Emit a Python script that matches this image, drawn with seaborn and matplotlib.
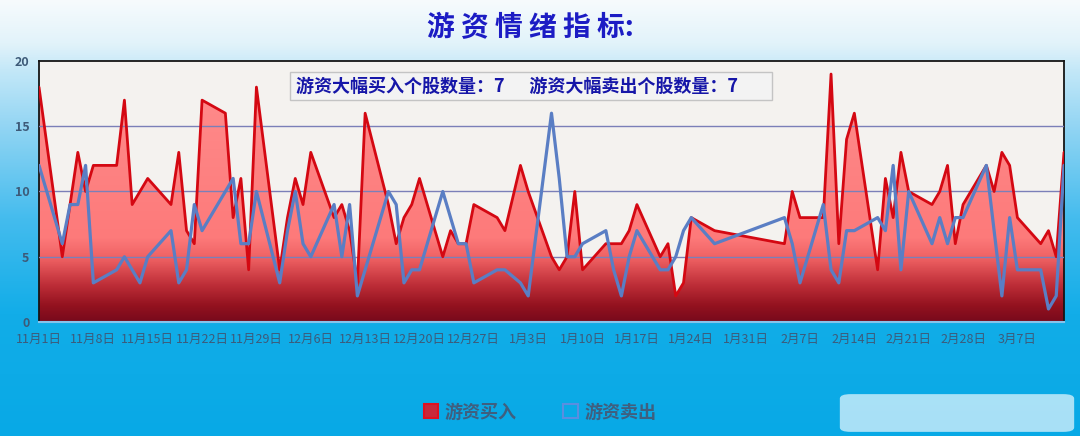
import numpy as np
import pandas as pd
import matplotlib
matplotlib.use("Agg")
import matplotlib.pyplot as plt
import matplotlib.dates as mdates
from matplotlib.colors import LinearSegmentedColormap
from matplotlib.patches import Patch, Rectangle, FancyBboxPatch
import seaborn as sns

# ---------------- data ----------------
days_nov = [1, 4, 5, 6, 7, 8, 11, 12, 13, 14, 15, 18, 19, 20, 21, 22, 25, 26, 27, 28, 29]
days_dec = [2, 3, 4, 5, 6, 9, 10, 11, 12, 13, 16, 17, 18, 19, 20, 23, 24, 25, 26, 27, 30, 31]
days_jan = [2, 3, 6, 7, 8, 9, 10, 13, 14, 15, 16, 17, 20, 21, 22, 23, 24, 27]
days_feb = [5, 6, 7, 10, 11, 12, 13, 14, 17, 18, 19, 20, 21, 24, 25, 26, 27, 28]
days_mar = [3, 4, 5, 6, 7, 10, 11, 12, 13]

buy = [18, 5, 9, 13, 10, 12, 12, 17, 9, 10, 11, 9, 13, 7, 6, 17, 16, 8, 11, 4, 18,
       4, 8, 11, 9, 13, 8, 9, 7, 3, 16, 9, 6, 8, 9, 11, 5, 7, 6, 6, 9, 8, 7,
       12, 10, 5, 4, 5, 10, 4, 6, 6, 6, 7, 9, 5, 6, 2, 3, 8, 7,
       6, 10, 8, 8, 19, 6, 14, 16, 4, 11, 8, 13, 10, 9, 10, 12, 6, 9,
       12, 10, 13, 12, 8, 6, 7, 5, 13]
sell = [12, 6, 9, 9, 12, 3, 4, 5, 4, 3, 5, 7, 3, 4, 9, 7, 10, 11, 6, 6, 10,
        3, 7, 10, 6, 5, 9, 5, 9, 2, 4, 10, 9, 3, 4, 4, 10, 8, 6, 6, 3, 4, 4,
        3, 2, 16, 11, 5, 5, 6, 7, 4, 2, 5, 7, 4, 4, 5, 7, 8, 6,
        8, 6, 3, 9, 4, 3, 7, 7, 8, 7, 12, 4, 10, 6, 8, 6, 8, 8,
        12, 7, 2, 8, 4, 4, 1, 2, 12]

y_ticks = [0, 5, 10, 15, 20]
title_text = "游 资 情 绪 指 标:"
info_text = "游资大幅买入个股数量：7      游资大幅卖出个股数量：7"
series_names = ["游资买入", "游资卖出"]

dates = ([pd.Timestamp(2024, 11, d) for d in days_nov] +
         [pd.Timestamp(2024, 12, d) for d in days_dec] +
         [pd.Timestamp(2025, 1, d) for d in days_jan] +
         [pd.Timestamp(2025, 2, d) for d in days_feb] +
         [pd.Timestamp(2025, 3, d) for d in days_mar])

df = pd.DataFrame({"date": dates, "buy": buy, "sell": sell})

# ---------------- style ----------------
sns.set_theme(style="white")
plt.rcParams["font.family"] = ["Noto Sans CJK SC", "DejaVu Sans"]

W, H = 1080, 436
fig = plt.figure(figsize=(W / 100, H / 100), dpi=100)

# background gradient
bg = fig.add_axes([0, 0, 1, 1], zorder=-10)
bg.axis("off")
bg_cmap = LinearSegmentedColormap.from_list(
    "bg", [(0.0, "#f7fbfd"), (0.10, "#e2f3fa"), (0.16, "#c4e8f8"),
           (0.30, "#8fd4f3"), (0.50, "#45bcee"), (0.72, "#12ade8"), (1.0, "#08a9e6")])
grad = np.linspace(0, 1, 256).reshape(-1, 1)
bg.imshow(grad, cmap=bg_cmap, aspect="auto", extent=[0, 1, 0, 1], origin="upper")
bg.set_xlim(0, 1)
bg.set_ylim(0, 1)

# main axes
L, R, T, B = 39, 1064, 61, 322
ax = fig.add_axes([L / W, 1 - B / H, (R - L) / W, (B - T) / H], zorder=1)
ax.set_facecolor("#f4f2ef")

x0 = pd.Timestamp(2024, 11, 1)
x1 = pd.Timestamp(2025, 3, 13)

# gradient-filled area for buy
poly = ax.fill_between(df["date"], df["buy"], 0, facecolor="none", edgecolor="none", zorder=2)
area_cmap = LinearSegmentedColormap.from_list(
    "area", [(0.0, "#780a1c"), (0.06, "#93121f"), (0.14, "#be2e38"),
             (0.24, "#ee6062"), (0.32, "#fd7a7a"), (1.0, "#ff8e8e")])
ygrad = np.linspace(0, 1, 400).reshape(-1, 1)
img = ax.imshow(ygrad, cmap=area_cmap, aspect="auto", origin="lower",
                extent=[mdates.date2num(x0), mdates.date2num(x1), 0, 20], zorder=2)
img.set_clip_path(poly.get_paths()[0], transform=ax.transData)

# grid lines
for v in [5, 10, 15]:
    ax.axhline(v, color="#7b7fb8", lw=1.0, zorder=3)

sns.lineplot(data=df, x="date", y="buy", ax=ax, color="#d40812", lw=2.0, zorder=4)
sns.lineplot(data=df, x="date", y="sell", ax=ax, color="#5a7ec4", lw=2.3, zorder=5)

ax.set_xlim(x0, x1)
ax.set_ylim(0, 20)
ax.set_xlabel("")
ax.set_ylabel("")
ax.grid(False)

ax.set_yticks(y_ticks)
ax.set_yticklabels([str(v) for v in y_ticks], color="#3d5a78", fontsize=9, fontweight="bold")
xt = pd.date_range(x0, pd.Timestamp(2025, 3, 7), freq="7D")
ax.set_xticks(xt)
ax.set_xticklabels([f"{d.month}月{d.day}日" for d in xt], color="#3d5a7a", fontsize=9,
                   fontweight="medium")
ax.tick_params(axis="y", length=0, pad=7)
ax.tick_params(axis="x", length=4, width=1, color="#8cc8ee", pad=4, direction="out")

for side in ["top", "right", "left"]:
    ax.spines[side].set_color("#151515")
    ax.spines[side].set_linewidth(1.3)
ax.spines["bottom"].set_color("#86c4ec")
ax.spines["bottom"].set_linewidth(1.5)

# info box
box = Rectangle((290 / W, 1 - 100 / H), (772 - 290) / W, 28 / H, transform=fig.transFigure,
                facecolor="#f3f3f3", edgecolor="#c4c4c4", lw=1.0, zorder=6)
ax.add_artist(box)
box.set_clip_on(False)
fig.text(296 / W, 1 - 86 / H, info_text, ha="left", va="center", fontsize=13,
         fontweight="bold", color="#1616a8", zorder=7)

# title
fig.text(530 / W, 1 - 28 / H, title_text, ha="center", va="center", fontsize=20,
         fontweight="bold", color="#1c1cc4")

# legend
handles = [Patch(facecolor="#c8283a", edgecolor="#e01020", lw=1.5),
           Patch(facecolor="none", edgecolor="#5a8ee0", lw=1.5)]
leg = fig.legend(handles, series_names, loc="center", bbox_to_anchor=(540 / W, 1 - 412 / H),
                 ncol=2, frameon=False, handlelength=0.8, handleheight=0.8,
                 handletextpad=0.35, columnspacing=2.6,
                 prop={"size": 13, "weight": "bold"})
for t in leg.get_texts():
    t.set_color("#3f5f7f")

# blurred watermark-like patch bottom right
wm = FancyBboxPatch((842 / W, 1 - 431 / H), 230 / W, 36 / H, boxstyle="round,pad=0.002,rounding_size=0.01",
                    transform=fig.transFigure, facecolor="#ffffff", edgecolor="none", alpha=0.65)
fig.patches.append(wm)

fig.savefig("out.png", dpi=100)
